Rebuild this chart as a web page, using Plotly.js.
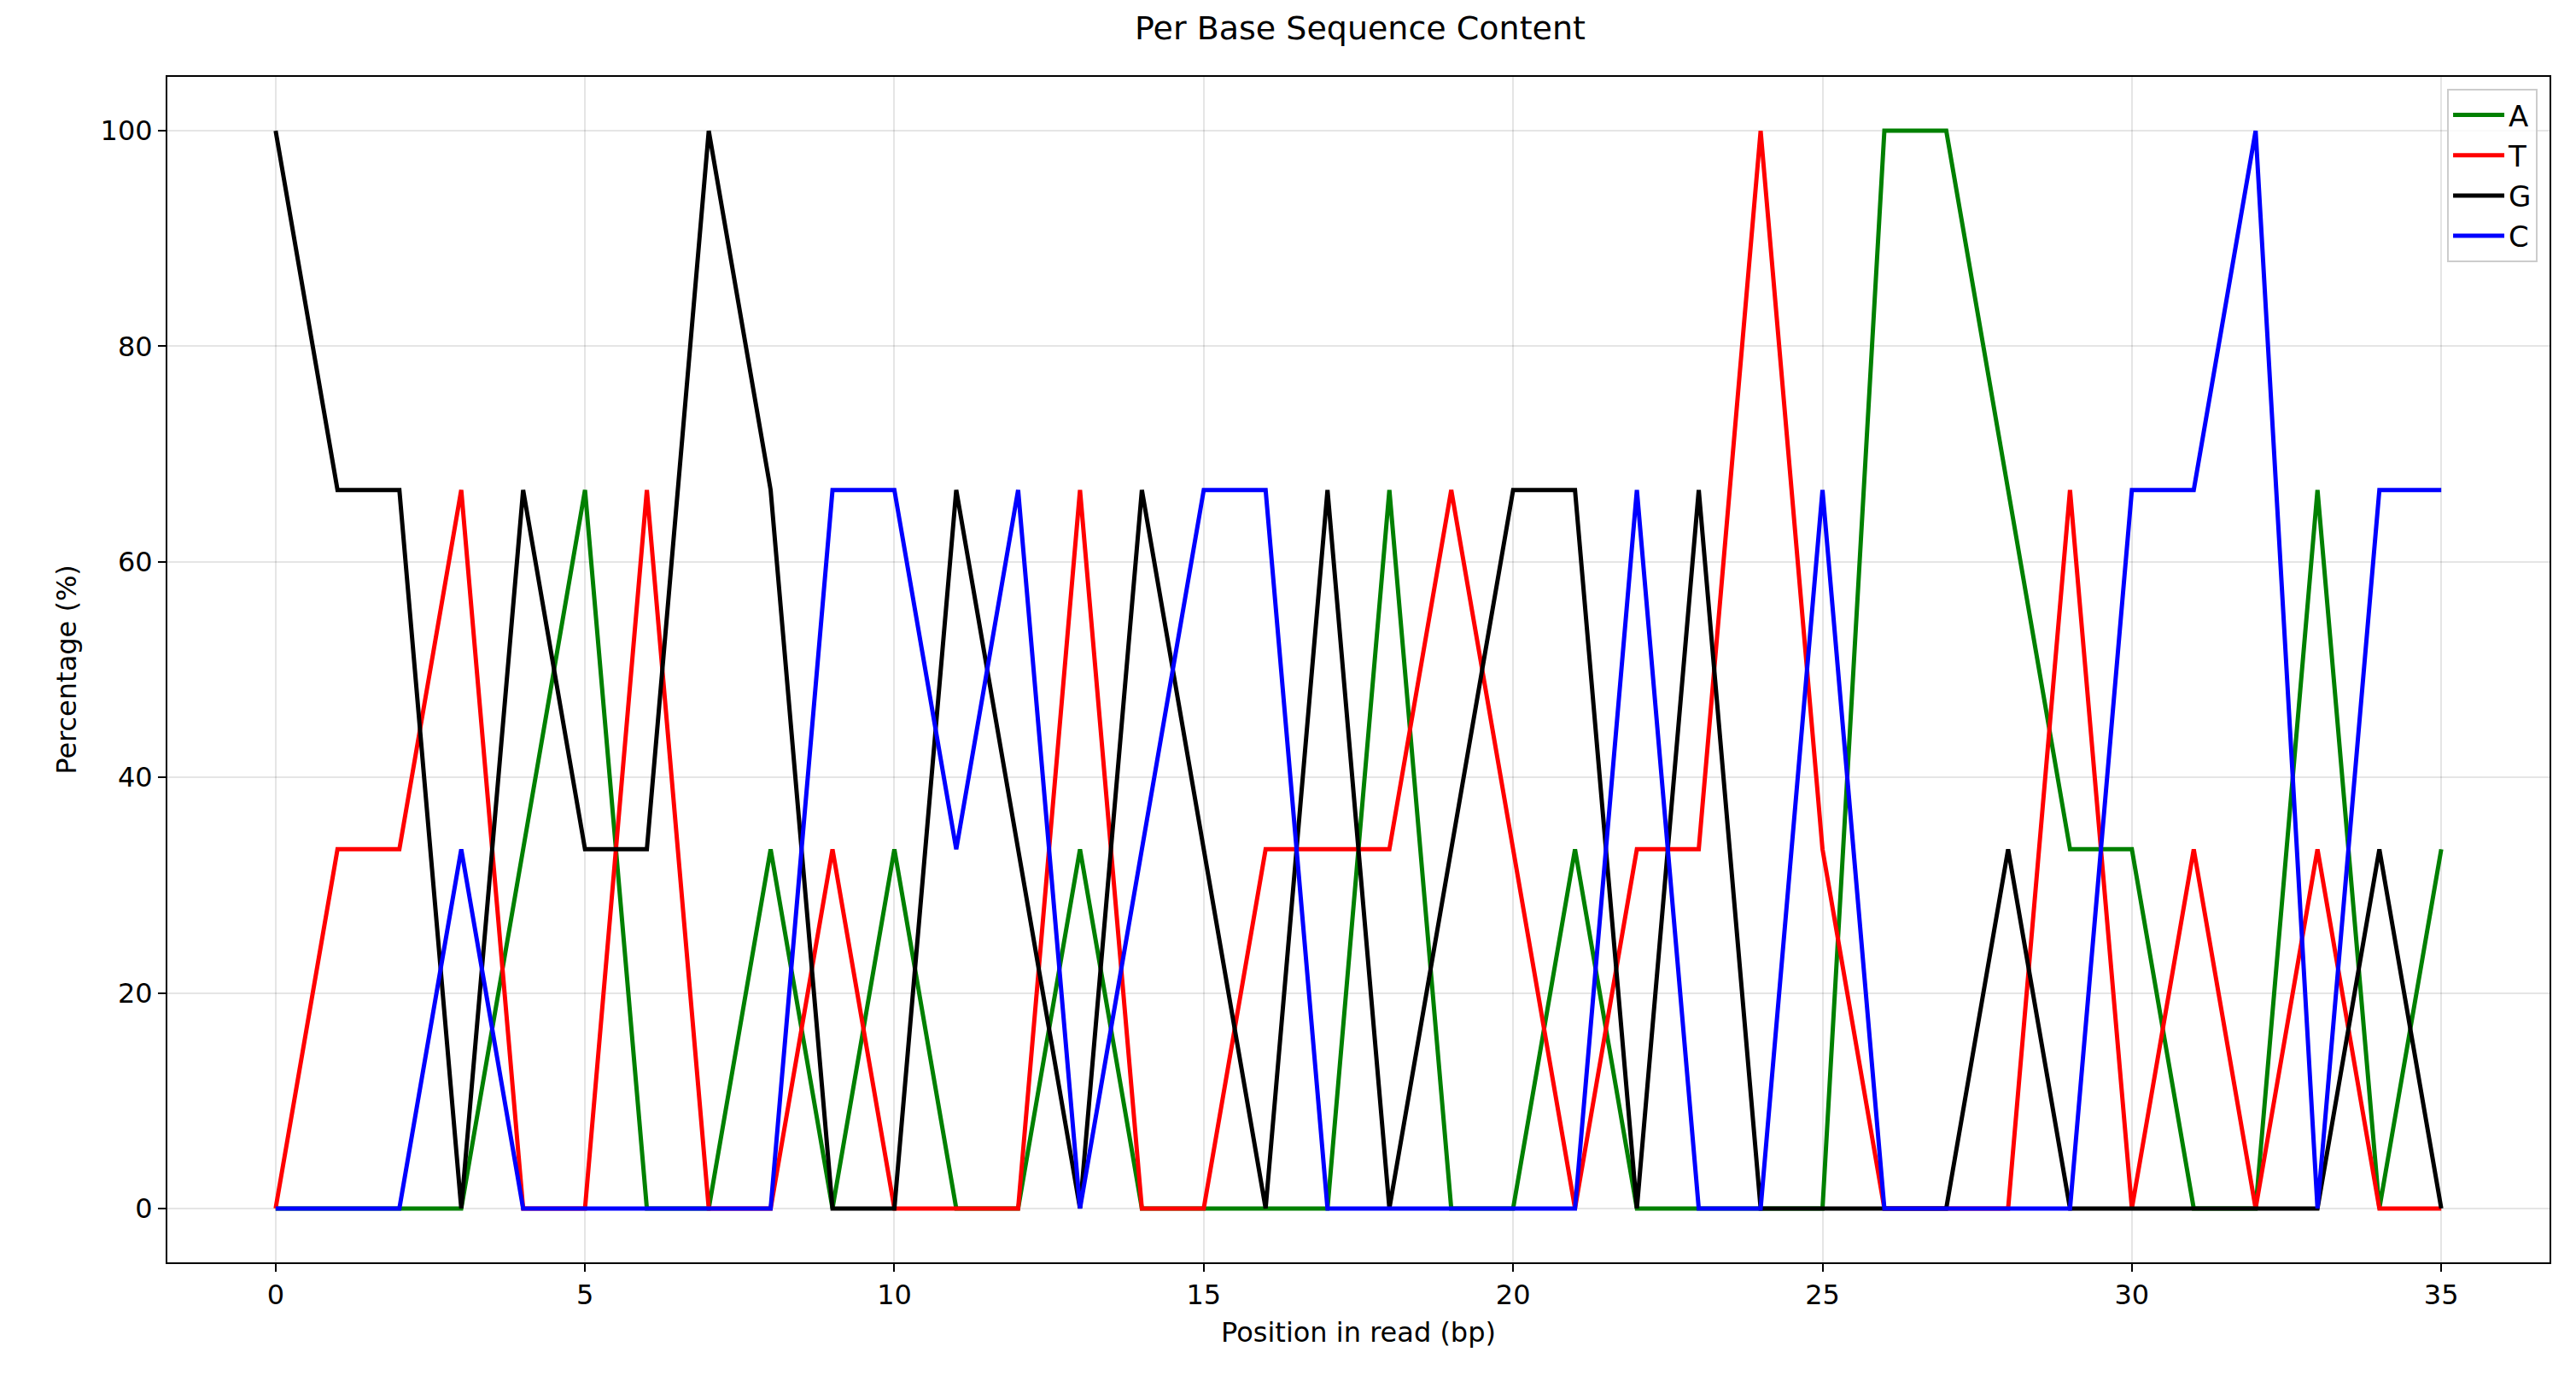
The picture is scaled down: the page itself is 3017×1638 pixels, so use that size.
<!DOCTYPE html>
<html>
<head>
<meta charset="utf-8">
<script src="https://cdn.plot.ly/plotly-3.0.1.min.js"></script>
<style>body{margin:0;background:#fff}#chart{width:3017px;height:1638px}</style>
</head>
<body>
<div id="chart"></div>
<script>
var t = 100 / 3;
var positions = [];
for (var i = 0; i < 36; i++) positions.push(i);

// counts out of 3 reads at each position
var aPct = [0,0,0,0,1,2,0,0,1,0,1,0,0,1,0,0,0,0,2,0,0,1,0,0,0,0,3,3,2,1,1,0,0,2,0,1];
var tPct = [0,1,1,2,0,0,2,0,0,1,0,0,0,2,0,0,1,1,1,2,1,0,1,1,3,1,0,0,0,2,0,1,0,1,0,0];
var gPct = [3,2,2,0,2,1,1,3,2,0,0,2,1,0,2,1,0,2,0,1,2,2,0,2,0,0,0,0,1,0,0,0,0,0,1,0];
var cPct = [0,0,0,1,0,0,0,0,0,2,2,1,2,0,1,2,2,0,0,0,0,0,2,0,0,2,0,0,0,0,2,2,3,0,2,2];

var bases = ['A', 'T', 'G', 'C'];
var colors = ['green', 'red', 'black', 'blue'];
var series = [aPct, tPct, gPct, cPct];

var traces = bases.map(function (b, k) {
  return {
    x: positions,
    y: series[k].map(function (v) { return v * t; }),
    name: b,
    type: 'scatter',
    mode: 'lines',
    line: { color: colors[k], width: 5 }
  };
});

var axisFont = { family: 'DejaVu Sans', size: 32, color: '#000' };
var layout = {
  width: 3017,
  height: 1638,
  paper_bgcolor: '#fff',
  plot_bgcolor: '#fff',
  margin: { l: 196, r: 31, t: 90, b: 160 },
  font: axisFont,
  title: { text: 'Per Base Sequence Content', font: { family: 'DejaVu Sans', size: 38, color: '#000' }, x: 0.528, y: 0.988, yanchor: 'top' },
  xaxis: {
    title: { text: 'Position in read (bp)', font: axisFont, standoff: 14 },
    range: [-1.75, 36.75], tickvals: [0,5,10,15,20,25,30,35],
    showline: true, mirror: true, linecolor: '#000', linewidth: 2,
    ticks: 'outside', ticklen: 9, tickwidth: 2, tickcolor: '#000',
    showgrid: true, gridcolor: 'rgba(0,0,0,0.1)', gridwidth: 2, zeroline: false
  },
  yaxis: {
    title: { text: 'Percentage (%)', font: axisFont, standoff: 18 },
    range: [-5, 105], tickvals: [0,20,40,60,80,100],
    showline: true, mirror: true, linecolor: '#000', linewidth: 2,
    ticks: 'outside', ticklen: 9, tickwidth: 2, tickcolor: '#000',
    showgrid: true, gridcolor: 'rgba(0,0,0,0.1)', gridwidth: 2, zeroline: false
  },
  legend: {
    x: 0.995, y: 0.99, xanchor: 'right', yanchor: 'top',
    bgcolor: 'rgba(255,255,255,0.8)', bordercolor: '#ccc', borderwidth: 2,
    itemwidth: 60, tracegroupgap: 0,
    font: { family: 'DejaVu Sans', size: 34, color: '#000' }
  }
};

Plotly.newPlot('chart', traces, layout, { displayModeBar: false });
</script>
</body>
</html>
